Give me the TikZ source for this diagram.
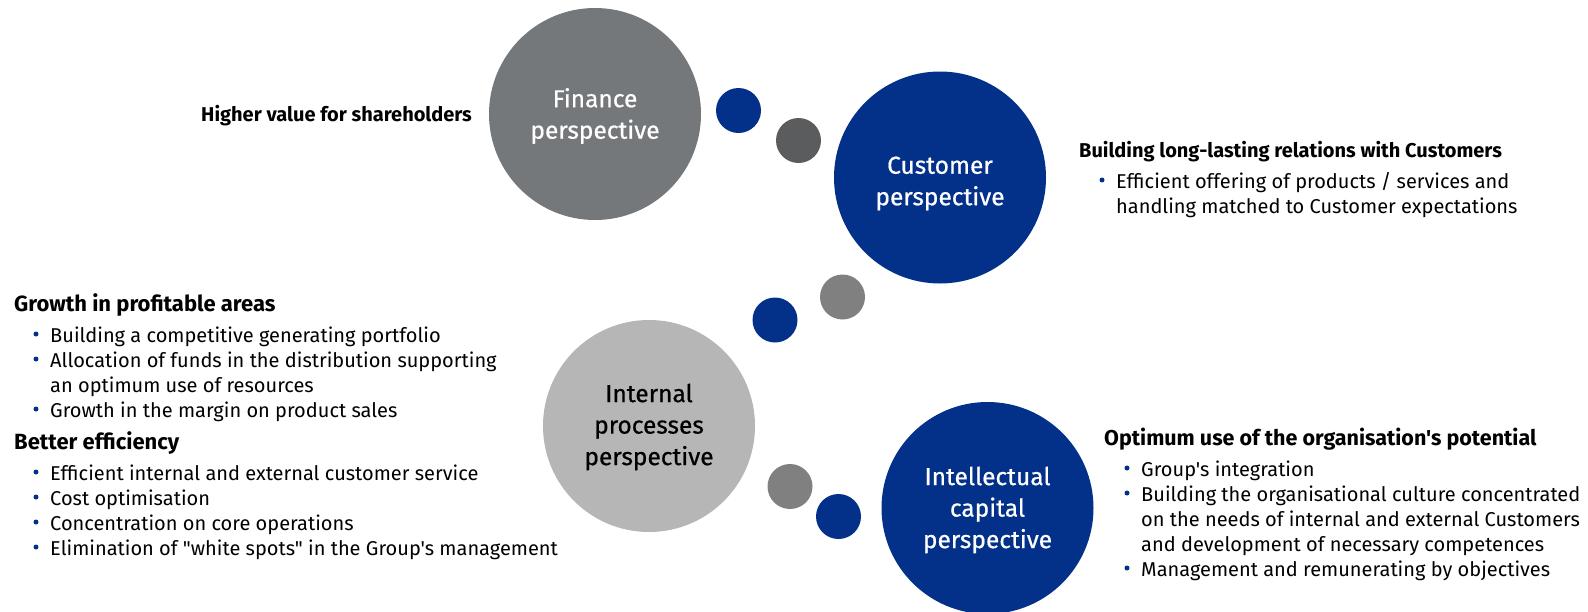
\documentclass[tikz,border=0pt]{standalone}
\usepackage{fontspec}
\newfontfamily\fira{Fira Sans}
\newfontfamily\firaheavy{Fira Sans}[FakeBold=0.6]
\definecolor{navy}{HTML}{03318A}
\definecolor{fingrey}{HTML}{75787B}
\definecolor{darkgrey}{HTML}{5B5C5E}
\definecolor{midgrey}{HTML}{808080}
\definecolor{lightgrey}{HTML}{B5B6B5}
\begin{document}
\begin{tikzpicture}[x=1pt,y=-1pt,
  big/.style={circle, minimum size=212pt, inner sep=0pt},
  bigtext/.style={inner sep=0pt, align=center,
    font=\firaheavy\fontsize{24.5}{31.5}\selectfont},
  dot/.style={circle, minimum size=45pt, inner sep=0pt},
  head/.style={anchor=base west, inner sep=0pt, font=\fira\bfseries\fontsize{20}{25}\selectfont},
  headL/.style={head, font=\fira\bfseries\fontsize{22}{25}\selectfont},
  headR/.style={head, font=\fira\bfseries\fontsize{21.5}{25}\selectfont},
  txt/.style={anchor=base west, inner sep=0pt, font=\fira\fontsize{20}{25}\selectfont},
  bdot/.style={circle, fill=navy, minimum size=5pt, inner sep=0pt}]
\useasboundingbox (0,0) rectangle (1588,611);

% big circles
\node[big, fill=fingrey] (fin) at (595,114) {};
\node[bigtext, text=white] (fint) at ([yshift=-2pt]fin.center) {Finance\\perspective};
\node[big, fill=navy] (cust) at (940,177.5) {};
\node[bigtext, text=white] (custt) at ([yshift=-6pt]cust.center) {Customer\\perspective};
\node[big, fill=lightgrey] (int) at (649,426) {};
\node[bigtext, text=black] (intt) at ([yshift=-1pt]int.center) {Internal\\processes\\perspective};
\node[big, fill=navy] (intel) at (987.5,508) {};
\node[bigtext, text=white] (intelt) at ([yshift=-2pt]intel.center) {Intellectual\\capital\\perspective};

% small dots
\node[dot, fill=navy] (d1) at (738.5,110.5) {};
\node[dot, fill=darkgrey] (d2) at (798.5,140.5) {};
\node[dot, fill=midgrey] (d3) at (842.5,297) {};
\node[dot, fill=navy] (d4) at (775,320) {};
\node[dot, fill=midgrey] (d5) at (790,486.5) {};
\node[dot, fill=navy] (d6) at (838.5,516.5) {};

% finance text
\node[head] (fh) at (201,121) {Higher value for shareholders};

% customer text
\node[head] (ch) at (1079,157) {Building long-lasting relations with Customers};
\node[bdot] (cb1) at (1102,180) {};
\node[txt] (c1) at (1116,188) {Efficient offering of products / services and};
\node[txt] (c2) at (1116,213) {handling matched to Customer expectations};

% internal processes text
\node[headL] (ih1) at (14,311) {Growth in profitable areas};
\node[bdot] (ib1) at (36,334) {};
\node[txt] (i1) at (50,342) {Building a competitive generating portfolio};
\node[bdot] (ib2) at (36,359) {};
\node[txt] (i2) at (50,367) {Allocation of funds in the distribution supporting};
\node[txt] (i3) at (50,392) {an optimum use of resources};
\node[bdot] (ib4) at (36,409) {};
\node[txt] (i4) at (50,417) {Growth in the margin on product sales};
\node[headL] (ih2) at (14,449) {Better efficiency};
\node[bdot] (ib5) at (36,472) {};
\node[txt] (i5) at (50,480) {Efficient internal and external customer service};
\node[bdot] (ib6) at (36,497) {};
\node[txt] (i6) at (50,505) {Cost optimisation};
\node[bdot] (ib7) at (36,522) {};
\node[txt] (i7) at (50,530) {Concentration on core operations};
\node[bdot] (ib8) at (36,547) {};
\node[txt] (i8) at (50,555) {Elimination of "white spots" in the Group's management};

% intellectual capital text
\node[headR] (kh) at (1104,445) {Optimum use of the organisation's potential};
\node[bdot] (kb1) at (1127,468) {};
\node[txt] (k1) at (1141,476) {Group's integration};
\node[bdot] (kb2) at (1127,493) {};
\node[txt] (k2) at (1141,501) {Building the organisational culture concentrated};
\node[txt] (k3) at (1141,526) {on the needs of internal and external Customers};
\node[txt] (k4) at (1141,551) {and development of necessary competences};
\node[bdot] (kb5) at (1127,568) {};
\node[txt] (k5) at (1141,576) {Management and remunerating by objectives};
\end{tikzpicture}
\end{document}
